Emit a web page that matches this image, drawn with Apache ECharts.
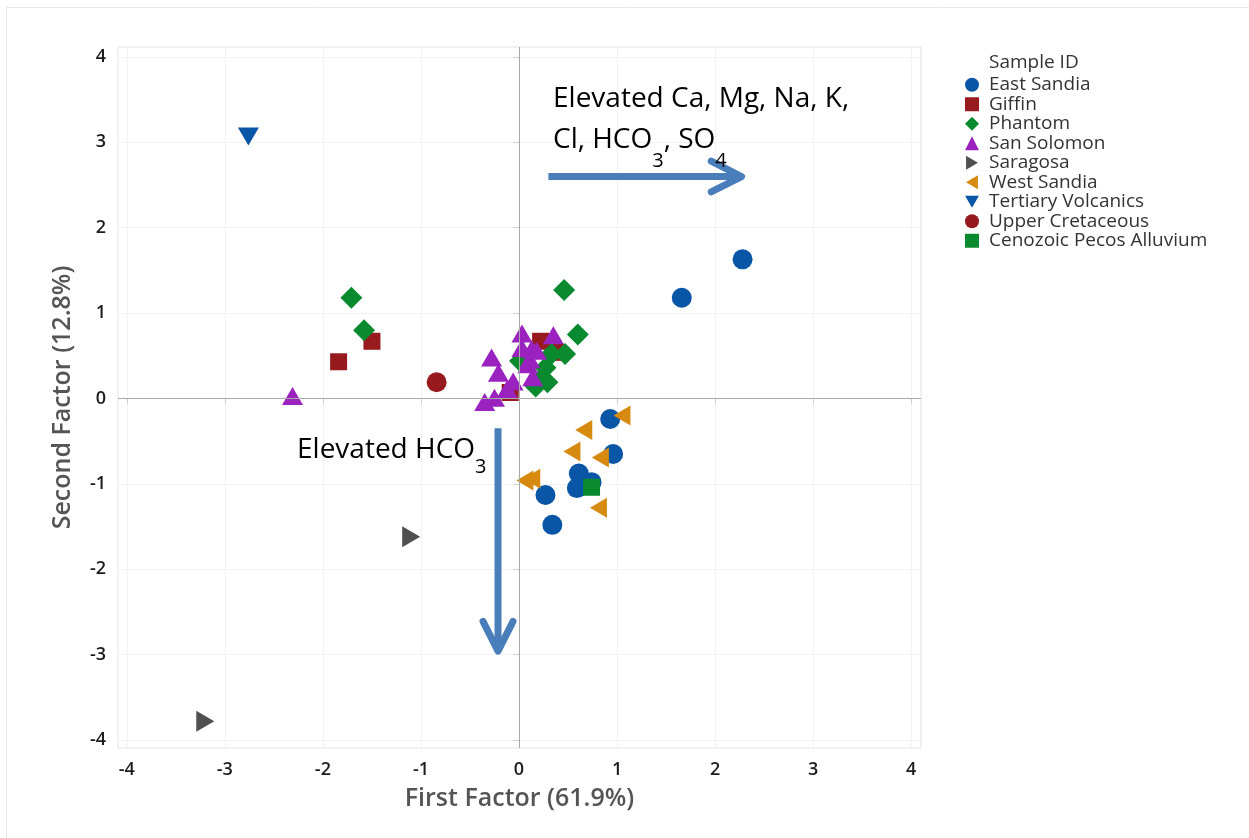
<!DOCTYPE html>
<html>
<head>
<meta charset="utf-8">
<script src="https://cdn.jsdelivr.net/npm/echarts@6/dist/echarts.min.js"></script>
<style>
html,body{margin:0;padding:0;background:#fff;}
#chart{width:1249px;height:838px;}
</style>
</head>
<body>
<div id="chart"></div>
<script>
// ---- data ----
const xTicks = [-4, -3, -2, -1, 0, 1, 2, 3, 4];
const yTicks = [-4, -3, -2, -1, 0, 1, 2, 3, 4];
const seriesNames = ['East Sandia', 'Giffin', 'Phantom', 'San Solomon', 'Saragosa', 'West Sandia', 'Tertiary Volcanics', 'Upper Cretaceous', 'Cenozoic Pecos Alluvium'];
const eastSandia = [[2.28, 1.63], [1.66, 1.18], [0.93, -0.24], [0.96, -0.65], [0.61, -0.88], [0.74, -0.98], [0.59, -1.05], [0.27, -1.13], [0.34, -1.48]];
const giffin = [[-1.84, 0.43], [-1.50, 0.67], [0.22, 0.67], [0.38, 0.54], [-0.09, 0.07]];
const phantom = [[-1.71, 1.18], [-1.58, 0.80], [0.46, 1.27], [0.60, 0.75], [0.47, 0.52], [0.33, 0.52], [0.01, 0.44], [0.27, 0.36], [0.23, 0.23], [0.17, 0.14], [0.29, 0.19]];
const sanSolomon = [[-2.31, 0.03], [0.03, 0.76], [0.35, 0.74], [0.03, 0.59], [0.13, 0.58], [0.18, 0.56], [0.09, 0.40], [0.11, 0.46], [-0.28, 0.48], [-0.21, 0.30], [0.14, 0.25], [-0.06, 0.20], [-0.12, 0.11], [-0.25, 0.01], [-0.35, -0.04]];
const saragosa = [[-1.10, -1.62], [-3.20, -3.78]];
const westSandia = [[1.05, -0.20], [0.66, -0.37], [0.54, -0.62], [0.83, -0.69], [0.06, -0.96], [0.13, -0.94], [0.81, -1.28]];
const tertiaryVolcanics = [[-2.76, 3.07]];
const upperCretaceous = [[-0.84, 0.19]];
const cenozoicPecos = [[0.74, -1.04]];
// annotation arrows (data coordinates)
const arrowRightShaft = [[0.30, 2.60], [2.27, 2.60]];
const arrowRightHead = [[1.96, 2.78], [2.27, 2.60], [1.96, 2.42]];
const arrowDownShaft = [[-0.214, -0.35], [-0.214, -2.96]];
const arrowDownHead = [[-0.367, -2.61], [-0.214, -2.96], [-0.061, -2.61]];

const FONT = 'Open Sans';
const colors = {
  blue: '#0a56a6', red: '#971b1e', green: '#0a8a2e', purple: '#9a22bf',
  gray: '#505050', orange: '#d68a10', arrow: '#4a7ebb'
};
const legendIcons = {
  'East Sandia': 'circle', 'Giffin': 'rect', 'Phantom': 'diamond', 'San Solomon': 'triangle',
  'Saragosa': 'path://M0,0L17,10L0,20Z',
  'West Sandia': 'path://M17,0L0,10L17,20Z',
  'Tertiary Volcanics': 'path://M0,0L20,0L10,17Z',
  'Upper Cretaceous': 'circle', 'Cenozoic Pecos Alluvium': 'rect'
};

function sc(name, data, symbol, size, color, rotate) {
  return {
    name: name, type: 'scatter', data: data, symbol: symbol, symbolSize: size,
    symbolRotate: rotate || 0, itemStyle: { color: color, opacity: 1 }, z: 3,
    emphasis: { disabled: true }
  };
}
function arrowLine(data, cap) {
  return {
    type: 'line', data: data, showSymbol: false, symbol: 'none', silent: true, z: 4,
    lineStyle: { color: colors.arrow, width: 7, cap: cap, join: 'round' },
    emphasis: { disabled: true }, animation: false
  };
}

const chart = echarts.init(document.getElementById('chart'), null, { renderer: 'canvas' });
const option = {
  animation: false,
  backgroundColor: '#ffffff',
  textStyle: { fontFamily: FONT },
  grid: {
    left: 118, top: 47, right: 328, bottom: 90, containLabel: false,
    show: true, borderColor: '#e3e3e3', borderWidth: 1, backgroundColor: 'transparent'
  },
  xAxis: {
    type: 'value', min: -4.09, max: 4.1, splitNumber: 8,
    name: 'First Factor (61.9%)', nameLocation: 'middle', nameGap: 38,
    nameTextStyle: { fontFamily: FONT, fontSize: 25, color: '#555555', fontWeight: 600 },
    axisLine: { show: false },
    axisTick: { show: true, length: 6, inside: false, customValues: xTicks, lineStyle: { color: '#d0d0d0' } },
    axisLabel: { customValues: xTicks, margin: 13, fontFamily: FONT, fontSize: 18, fontWeight: 600, color: '#1c1c1c' },
    splitLine: { show: true, lineStyle: { color: '#f2f2f2', width: 1 } }
  },
  yAxis: {
    type: 'value', min: -4.094, max: 4.117, splitNumber: 8,
    name: 'Second Factor (12.8%)', nameLocation: 'middle', nameGap: 43, nameRotate: 90,
    nameTextStyle: { fontFamily: FONT, fontSize: 25, color: '#555555', fontWeight: 600 },
    axisLine: { show: false },
    axisTick: { show: true, length: 6, inside: false, customValues: yTicks, lineStyle: { color: '#d0d0d0' } },
    axisLabel: { customValues: yTicks, margin: 12, fontFamily: FONT, fontSize: 18, fontWeight: 600, color: '#1c1c1c' },
    splitLine: { show: true, lineStyle: { color: '#f2f2f2', width: 1 } }
  },
  legend: {
    orient: 'vertical', left: 960, top: 70, itemWidth: 14, itemHeight: 14, itemGap: 0,
    data: seriesNames.map(n => ({ name: n, icon: legendIcons[n] })), selectedMode: false,
    textStyle: { fontFamily: FONT, fontSize: 19, color: '#333333', lineHeight: 19.5, padding: [0, 0, 0, 5] }
  },
  graphic: [
    { type: 'rect', shape: { x: 6.5, y: 7.5, width: 1260, height: 850 }, style: { fill: 'none', stroke: '#e6e6e6', lineWidth: 1 }, silent: true, z: -10 },
    { type: 'text', x: 989, y: 63, style: { text: 'Sample ID', font: '19px "Open Sans"', fill: '#333333', verticalAlign: 'middle' }, silent: true },
    {
      type: 'text', x: 553, y: 85, silent: true, z: 100,
      style: {
        text: '{a|Elevated Ca, Mg, Na, K,}\n{a|Cl, HCO}{s|3}{a|, SO}{s|4}',
        fill: '#000',
        rich: {
          a: { fontFamily: FONT, fontSize: 28, lineHeight: 41, verticalAlign: 'top', fill: '#000' },
          s: { fontFamily: FONT, fontSize: 20, lineHeight: 20, verticalAlign: 'top', padding: [25, 0, 0, 0], fill: '#000' }
        }
      }
    },
    {
      type: 'text', x: 297, y: 436, silent: true, z: 100,
      style: {
        text: '{a|Elevated HCO}{s|3}',
        fill: '#000',
        rich: {
          a: { fontFamily: FONT, fontSize: 28, lineHeight: 41, verticalAlign: 'top', fill: '#000' },
          s: { fontFamily: FONT, fontSize: 20, lineHeight: 20, verticalAlign: 'top', padding: [21, 0, 0, 0], fill: '#000' }
        }
      }
    }
  ],
  series: [
    {
      type: 'scatter', data: [], silent: true, z: 1,
      markLine: {
        silent: true, symbol: ['none', 'none'], animation: false,
        label: { show: false },
        lineStyle: { color: '#a8a8a8', width: 1, type: 'solid' },
        emphasis: { disabled: true },
        data: [{ xAxis: 0 }, { yAxis: 0 }]
      }
    },
    sc(seriesNames[0], eastSandia, 'circle', 20, colors.blue),
    sc(seriesNames[1], giffin, 'rect', 17, colors.red),
    sc(seriesNames[2], phantom, 'diamond', 22, colors.green),
    sc(seriesNames[3], sanSolomon, 'triangle', [21, 18], colors.purple),
    sc(seriesNames[4], saragosa, 'triangle', [21, 18], colors.gray, -90),
    sc(seriesNames[5], westSandia, 'triangle', [20, 17], colors.orange, 90),
    sc(seriesNames[6], tertiaryVolcanics, 'triangle', [21, 18], colors.blue, 180),
    sc(seriesNames[7], upperCretaceous, 'circle', 20, colors.red),
    sc(seriesNames[8], cenozoicPecos, 'rect', 17, colors.green),
    arrowLine(arrowRightShaft, 'butt'),
    arrowLine(arrowRightHead, 'round'),
    arrowLine(arrowDownShaft, 'butt'),
    arrowLine(arrowDownHead, 'round')
  ]
};
chart.setOption(option);
</script>
</body>
</html>
